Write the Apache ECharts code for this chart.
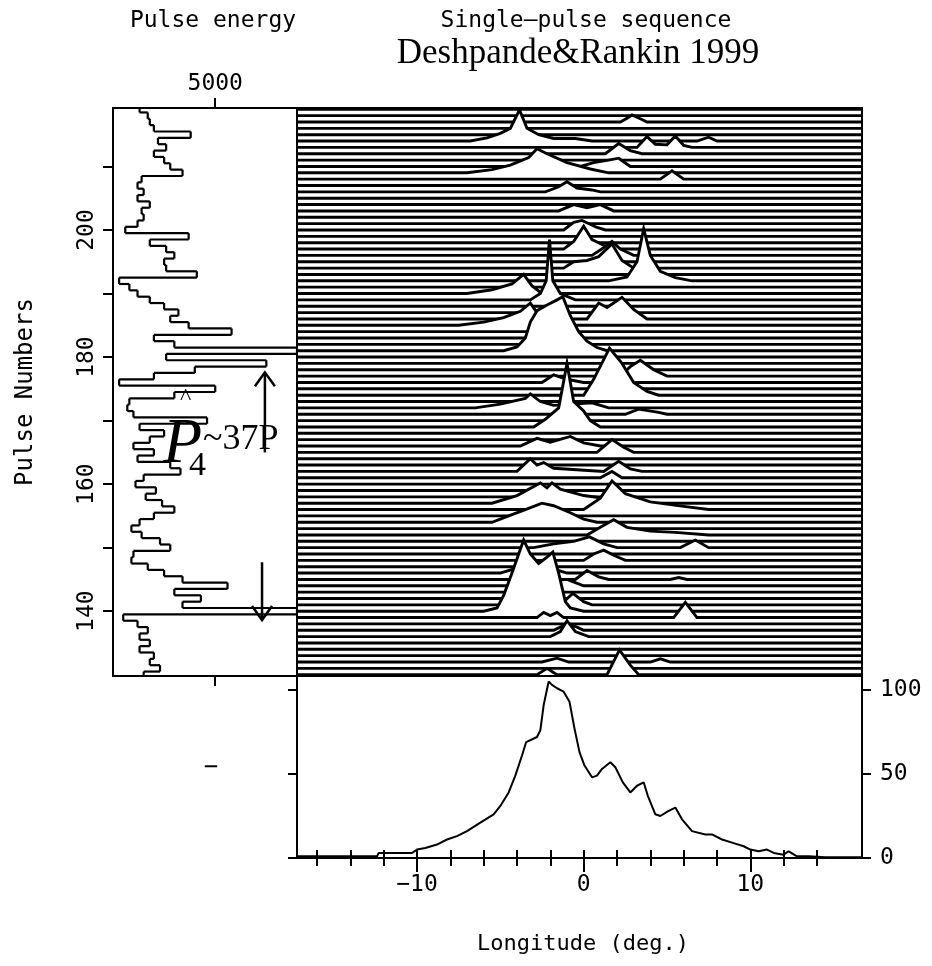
<!DOCTYPE html>
<html><head><meta charset="utf-8">
<script src="https://cdn.jsdelivr.net/npm/echarts@6/dist/echarts.min.js"></script>
<style>html,body{margin:0;padding:0;background:#fff}#c{width:932px;height:966px}</style>
</head><body><div id="c"></div>
<script>
// ---------- data ----------
const lonMin = -17.2, lonMax = 16.7;
const pulseMin = 129.8, pulseMax = 219.2;
const pulseNumbers = [130,131,132,133,134,135,136,137,138,139,140,141,142,143,144,145,146,147,148,149,
 150,151,152,153,154,155,156,157,158,159,160,161,162,163,164,165,166,167,168,169,
 170,171,172,173,174,175,176,177,178,179,180,181,182,183,184,185,186,187,188,189,
 190,191,192,193,194,195,196,197,198,199,200,201,202,203,204,205,206,207,208,209,
 210,211,212,213,214,215,216,217,218,219];
const pulseEnergy = [1500,2300,1800,2000,1300,1800,1300,1700,1200,500,9000,3400,4300,3000,5600,3400,2500,1700,900,1000,
 2800,2300,1400,900,1300,2000,3000,2400,1600,2100,1100,1500,3300,2800,1200,2000,1000,1800,2500,1300,
 4600,1000,700,800,3000,5000,300,2000,4000,7500,2600,9000,3000,2000,5800,3700,2800,3200,2500,1800,
 1200,800,300,4100,2600,2500,3000,2600,1800,3700,600,1200,1500,1400,1800,1200,1500,1200,1400,3400,
 2800,2500,2000,2600,2200,3800,2000,1800,1700,1300];
const energyTicks = [5000];
const pulseTicks = [140,150,160,170,180,190,200,210];
const pulseLabels = [140,160,180,200];
// single-pulse peaks: pulse number -> [longitude (deg), height in pulse-rows]
const pulsePeaks = {
 217: [[2.2,0],[2.6,0.6],[2.9,1.1],[3.4,0.5],[3.8,0]],
 214: [[-6.8,0],[-5.8,0.5],[-5,1.2],[-4.4,2],[-3.85,4.9],[-3.4,2],[-2.7,1],[-1.8,0.4],[-0.5,0.4],[0.5,0],[6.8,0],[7.5,0.6],[8,0]],
 213: [[3.2,0],[3.8,1.7],[4.3,0.5],[5.0,0.4],[5.5,1.8],[6.0,0.3],[6.5,0]],
 212: [[1.3,0],[2.1,1.6],[2.8,0.5],[3.5,0]],
 210: [[-0.2,0],[0.6,0.6],[1.5,1],[2.1,1.3],[2.8,0]],
 209: [[-7,0],[-5.5,0.5],[-4.4,1.2],[-3.3,2.4],[-2.8,3.8],[-2.2,3],[-1,1.6],[0.4,0.6],[1.5,0]],
 208: [[4.6,0],[5.3,1.3],[6,0]],
 206: [[-2.3,0],[-1.5,0.8],[-1.0,1.6],[-0.4,0.6],[0.5,0.3],[1,0]],
 203: [[-1.5,0],[-0.6,1.0],[0.2,0.5],[1,1.0],[1.8,0]],
 200: [[-1.2,0],[-0.6,1.2],[-0.1,1.5],[0.8,0.4],[1.3,0]],
 197: [[-1.2,0],[-0.6,1.2],[0,3.6],[0.5,1.5],[1.2,0.6],[1.8,0]],
 196: [[0.5,0],[1.2,1.2],[1.7,2.2],[2.2,1.0],[3,0]],
 194: [[-1.2,0],[-0.6,1.0],[0.2,1.2],[0.9,1.8],[1.7,3.8],[2.3,1.2],[3,0]],
 192: [[1.5,0],[2.6,0.6],[3.2,3],[3.6,8.2],[4.0,4],[4.6,1.5],[5.5,0.5],[6.5,0]],
 190: [[-7,0],[-5.5,0.6],[-4.3,1.5],[-3.6,3],[-3.1,1.2],[-2.5,0]],
 189: [[-3.2,0],[-2.6,1],[-2.25,3],[-2.05,9.5],[-1.85,3],[-1.4,1],[-0.5,0]],
 186: [[0.2,0],[0.9,2.5],[1.4,1.8],[2.3,3.4],[3,1.5],[3.8,0]],
 185: [[-7.5,0],[-6,0.5],[-4.8,1.2],[-3.8,2.2],[-3.2,3.5],[-2.8,2],[-2.4,0.8],[-1.8,0]],
 181: [[-4.8,0],[-4.0,0.6],[-3.5,2.0],[-3.2,4.5],[-2.8,6.3],[-2.2,7.2],[-1.6,8],[-1.25,8.5],[-0.8,5.5],[-0.3,3],[0.2,1.5],[0.8,0.5],[1.4,0]],
 177: [[2.2,0],[2.8,1.5],[3.4,2.5],[4.2,1.0],[5,0]],
 176: [[-2.5,0],[-1.8,1.2],[-1,0.5],[0,0]],
 174: [[0,0],[0.6,2.5],[1.55,7.4],[2.3,5],[3,2],[3.8,0.6],[4.5,0]],
 172: [[-6.5,0],[-5,0.6],[-3.5,1.5],[-3.2,2.2],[-2.6,1.0],[-1.8,0.4],[0.5,0.8],[1.5,0]],
 171: [[2.5,0],[3.3,0.8],[4.5,0.3],[5,0]],
 169: [[-3,0],[-2.3,1.2],[-1.5,3],[-1.0,10],[-0.6,4],[0,2.5],[0.4,1.0],[1,0]],
 166: [[-3.8,0],[-2.8,1.2],[-2,0.6],[-0.8,1.5],[0,0.5],[1,0]],
 165: [[0.8,0],[1.7,2],[2.4,0.8],[3,0]],
 162: [[-4,0],[-3.2,2.0],[-2.8,1.0],[-2.4,1.4],[-1.8,0.5],[1.2,0],[2.1,1.6],[2.8,0.4],[3.5,0]],
 161: [[1.0,0],[1.7,1.0],[2.3,0]],
 157: [[-5.5,0],[-4,1.2],[-2.6,3.2],[-2.2,2.4],[-1.9,3.2],[-1.4,2.2],[0,1.2],[2,0.5],[3,0]],
 156: [[0,0],[1,1.8],[1.7,4.5],[2.5,2.5],[4,1.2],[6,0.5],[7.5,0]],
 154: [[-5.5,0],[-4.5,1],[-3.5,2],[-2.5,3],[-1.8,2.6],[-0.8,1.5],[0,0.5],[0.8,0]],
 152: [[0.2,0],[1,1.2],[1.8,2.4],[2.6,1.2],[4,0.6],[5.5,0.4],[7.5,0]],
 150: [[-3,0],[-1.8,0.6],[-0.6,1.0],[0.35,1.7],[1.2,0.6],[2,0],[5.8,0],[6.7,1.2],[7.5,0]],
 148: [[0,0],[0.6,1.0],[1.2,1.6],[1.8,0.8],[2.5,0]],
 146: [[-5,0],[-4,0.8],[-3,1.5],[-2,0.8],[-1,0]],
 145: [[-0.5,0],[0.2,1.4],[0.9,0.4],[1.5,0],[5.2,0],[5.7,0.3],[6.2,0]],
 144: [[-3.5,0],[-2.6,1.8],[-2.0,0.8],[-1.0,1.0],[0,0]],
 141: [[-1.4,0],[-0.65,1.8],[0,0.5],[0.5,0]],
 140: [[-6,0],[-5.2,0.5],[-4.8,2.5],[-4.3,6],[-3.9,9],[-3.6,11.2],[-3.2,9],[-2.7,7.5],[-2.2,8.5],[-1.85,9.3],[-1.5,6],[-1.1,1.5],[-0.8,0.5],[0,0]],
 139: [[-2.8,0],[-2.4,0.8],[-2,0.3],[-1.6,0.8],[-1.2,0],[5.4,0],[6.1,2.4],[6.8,0]],
 137: [[-1.8,0],[-1,1.0],[-0.4,0.5],[0,0]],
 136: [[-2,0],[-1.4,0.8],[-1,2.5],[-0.5,0.8],[0.3,0]],
 132: [[-2.5,0],[-1.6,0.6],[-0.9,0],[4,0],[4.6,0.5],[5.2,0]],
 130: [[-2.8,0],[-2.2,1.0],[-1.6,0],[1.4,0],[2.15,3.9],[2.8,1.5],[3.3,0]]
};
const profile = [[-17.2,1],[-15,1],[-12.4,1],[-12.3,3],[-10.3,3],[-10.0,5],[-9.5,6],[-8.8,8],[-8.2,11],[-7.6,13],[-7.0,16],[-6.2,21],
 [-5.4,26],[-5.0,31],[-4.5,39],[-4.1,49],[-3.7,61],[-3.45,69],[-2.8,72],[-2.6,76],[-2.4,91],[-2.1,105],[-1.9,103],[-1.6,101],
 [-1.2,99],[-0.85,93],[-0.55,77],[-0.25,63],[0.05,55],[0.5,48],[0.8,49],[1.1,53],[1.6,57],[1.9,54],[2.35,45],[2.8,39],
 [3.2,43],[3.6,45],[3.85,37],[4.3,26],[4.6,25],[5.1,28],[5.5,30],[5.9,23],[6.5,16],[7.3,14],[7.7,14],[8.3,11],[8.95,9],
 [9.6,7],[10.0,5],[10.5,4],[11.0,5],[11.4,3],[12.0,2],[12.3,4],[12.8,1],[13.5,1],[14.5,0.5],[16.7,0.5]];
const lonMajorTicks = [-10,0,10];
const lonMinorTicks = [-16,-14,-12,-8,-6,-4,-2,2,4,6,8,12,14];
const profileTicks = [0,50,100];
// arrows (energy, pulse) start->end
const arrows = [[[7430,165.0],[7430,177.6]],[[7290,147.7],[7290,138.6]]];

// ---------- chart ----------
const chart = echarts.init(document.getElementById('c'), null, {renderer:'canvas'});
const FONT = 'DejaVu Sans Mono';
const axisTxt = {color:'#000', fontFamily:FONT, fontSize:23};
const hidden = {show:false};
const byPulseDesc = pulseNumbers.slice().sort((a,b)=>b-a);
const axLine = {show:true, onZero:false, lineStyle:{color:'#000',width:2}};

chart.setOption({
  animation:false,
  backgroundColor:'#fff',
  grid:[
    {left:113, top:108, width:184, height:568, show:true, borderColor:'#000', borderWidth:2},
    {left:297, top:108, width:565, height:568, show:true, borderColor:'#000', borderWidth:2},
    {left:297, top:676, width:565, height:182, show:false}
  ],
  xAxis:[
    {gridIndex:0, type:'value', min:0, max:9000, position:'top',
     axisLine:axLine, splitLine:hidden,
     axisTick:{show:true, customValues:energyTicks, length:10, lineStyle:{color:'#000',width:2}},
     axisLabel:{show:true, customValues:energyTicks, margin:12, formatter:v=>String(v), ...axisTxt}},
    {gridIndex:0, type:'value', min:0, max:9000, position:'bottom',
     axisLine:axLine, splitLine:hidden,
     axisTick:{show:true, customValues:energyTicks, length:10, lineStyle:{color:'#000',width:2}},
     axisLabel:hidden},
    {gridIndex:1, type:'value', min:lonMin, max:lonMax, axisLine:hidden, axisTick:hidden, axisLabel:hidden, splitLine:hidden},
    {gridIndex:2, type:'value', min:lonMin, max:lonMax, position:'bottom',
     axisLine:axLine, splitLine:hidden,
     axisTick:{show:true, customValues:lonMajorTicks, length:14, lineStyle:{color:'#000',width:2}},
     axisLabel:{show:true, customValues:lonMajorTicks, margin:16, formatter:v=>(v<0?'\u2212':'')+Math.abs(v), ...axisTxt}},
    {gridIndex:2, type:'value', min:lonMin, max:lonMax, position:'bottom',
     axisLine:hidden, splitLine:hidden,
     axisTick:{show:true, inside:true, customValues:lonMajorTicks.concat(lonMinorTicks), length:8, lineStyle:{color:'#000',width:2}},
     axisLabel:hidden},
    {gridIndex:2, type:'value', min:lonMin, max:lonMax, position:'bottom',
     axisLine:hidden, splitLine:hidden,
     axisTick:{show:true, customValues:lonMinorTicks, length:8, lineStyle:{color:'#000',width:2}},
     axisLabel:hidden}
  ],
  yAxis:[
    {gridIndex:0, type:'value', min:pulseMin, max:pulseMax,
     axisLine:axLine, splitLine:hidden,
     axisTick:{show:true, customValues:pulseTicks, length:10, lineStyle:{color:'#000',width:2}},
     axisLabel:{show:true, customValues:pulseLabels, rotate:90, margin:14, ...axisTxt},
     name:'Pulse Numbers', nameLocation:'middle', nameGap:75, nameRotate:90,
     nameTextStyle:{color:'#000', fontFamily:FONT, fontSize:24}},
    {gridIndex:1, type:'value', min:pulseMin, max:pulseMax, axisLine:hidden, axisTick:hidden, axisLabel:hidden, splitLine:hidden},
    {gridIndex:2, type:'value', min:0, max:108.3, position:'left',
     axisLine:axLine, splitLine:hidden,
     axisTick:{show:true, customValues:profileTicks, length:9, lineStyle:{color:'#000',width:2}},
     axisLabel:hidden},
    {gridIndex:2, type:'value', min:0, max:108.3, position:'right',
     axisLine:axLine, splitLine:hidden,
     axisTick:{show:true, customValues:profileTicks, length:9, lineStyle:{color:'#000',width:2}},
     axisLabel:{show:true, customValues:profileTicks, margin:18, ...axisTxt}}
  ],
  series:[
    { // pulse energy
      type:'custom', xAxisIndex:0, yAxisIndex:0, clip:true,
      data: pulseNumbers.map((p,i)=>[pulseEnergy[i], p]),
      renderItem(params, api){
        const i = params.dataIndex;
        const p = api.value(1), e = api.value(0);
        const a = api.coord([e, p-0.5]), b = api.coord([e, p+0.5]);
        const kids = [{type:'line', shape:{x1:a[0],y1:a[1],x2:b[0],y2:b[1]}, style:{stroke:'#000',lineWidth:2.2}}];
        if (i < pulseNumbers.length-1) {
          const c = api.coord([pulseEnergy[i+1], p+0.5]);
          kids.push({type:'line', shape:{x1:b[0],y1:b[1],x2:c[0],y2:c[1]}, style:{stroke:'#000',lineWidth:2.2}});
        }
        return {type:'group', children:kids};
      }
    },
    { // arrows
      type:'custom', xAxisIndex:0, yAxisIndex:0, clip:false,
      data: arrows.map(a=>[a[0][0],a[0][1],a[1][0],a[1][1]]),
      renderItem(params, api){
        const s = api.coord([api.value(0), api.value(1)]);
        const e = api.coord([api.value(2), api.value(3)]);
        const dir = e[1] < s[1] ? 1 : -1;
        return {type:'group', children:[
          {type:'line', shape:{x1:s[0],y1:s[1],x2:e[0],y2:e[1]}, style:{stroke:'#000',lineWidth:2.5}},
          {type:'polyline', shape:{points:[[e[0]-10,e[1]+dir*14],[e[0],e[1]],[e[0]+10,e[1]+dir*14]]}, style:{stroke:'#000',lineWidth:2.5,fill:null}}
        ]};
      }
    },
    { // single-pulse stack
      type:'custom', xAxisIndex:2, yAxisIndex:1, clip:true,
      data: byPulseDesc.map(p=>[0,p]),
      renderItem(params, api){
        const p = api.value(1);
        const pts = pulsePeaks[p] || [];
        const trace = [[lonMin,p]].concat(pts.map(d=>[d[0], p+d[1]]), [[lonMax,p]]).map(d=>api.coord(d));
        const poly = trace.concat([api.coord([lonMax,p]), api.coord([lonMin,p])]);
        return {type:'group', children:[
          {type:'polygon', shape:{points:poly}, style:{fill:'#fff'}},
          {type:'polyline', shape:{points:trace}, style:{stroke:'#000', lineWidth:2.9, fill:null}}
        ]};
      }
    },
    { // average profile
      type:'line', xAxisIndex:3, yAxisIndex:2, data:profile, showSymbol:false,
      lineStyle:{color:'#000', width:2}, clip:false
    }
  ],
  graphic:[
    {type:'text', x:213, y:21, style:{text:'Pulse energy', fontFamily:FONT, fontSize:23, fill:'#000', align:'center', verticalAlign:'middle'}},
    {type:'text', x:586, y:21, style:{text:'Single\u2014pulse sequence', fontFamily:FONT, fontSize:23, fill:'#000', align:'center', verticalAlign:'middle'}},
    {type:'text', x:578, y:54, style:{text:'Deshpande&Rankin 1999', fontFamily:'Liberation Serif', fontSize:35, fill:'#000', align:'center', verticalAlign:'middle'}},
    {type:'text', x:583, y:944, style:{text:'Longitude (deg.)', fontFamily:FONT, fontSize:22, fill:'#000', align:'center', verticalAlign:'middle'}},
    {type:'text', x:211, y:768, style:{text:'\u2212', fontFamily:FONT, fontSize:24, fill:'#000', align:'center', verticalAlign:'middle'}},
    {type:'text', x:163, y:445, style:{text:'P', fontFamily:'Liberation Serif', fontStyle:'italic', fontSize:64, fill:'#000', align:'left', verticalAlign:'middle'}},
    {type:'text', x:180, y:398, style:{text:'^', fontFamily:'Liberation Serif', fontSize:24, fill:'#000', align:'left', verticalAlign:'middle'}},
    {type:'text', x:189, y:466, style:{text:'4', fontFamily:'Liberation Serif', fontSize:34, fill:'#000', align:'left', verticalAlign:'middle'}},
    {type:'text', x:203, y:440, style:{text:'~37P', fontFamily:'Liberation Serif', fontSize:36, fill:'#000', align:'left', verticalAlign:'middle'}}
  ]
});
</script></body></html>
